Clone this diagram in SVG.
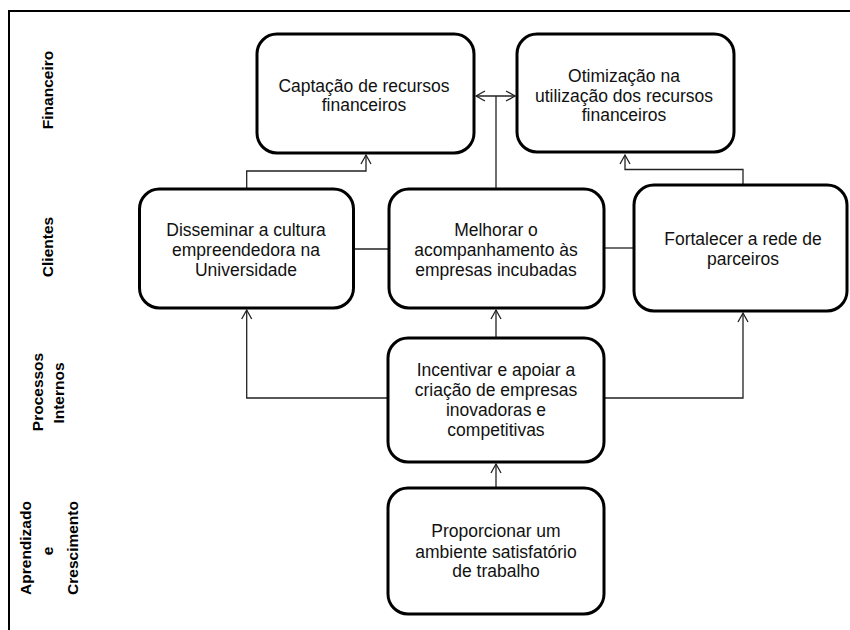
<svg xmlns="http://www.w3.org/2000/svg" width="850" height="630" viewBox="0 0 850 630">
<style>
.box{fill:#fff;stroke:#000;stroke-width:3}
.t{font-family:"Liberation Sans",Arial,sans-serif;font-size:17.5px;fill:#111;text-anchor:middle}
.lab{font-family:"Liberation Sans",Arial,sans-serif;font-size:15.5px;font-weight:bold;fill:#000;text-anchor:middle}
.c{fill:none;stroke:#222;stroke-width:1.3}
</style>
<defs>
<marker id="ah" markerUnits="userSpaceOnUse" markerWidth="12" markerHeight="12" viewBox="0 0 12 12" refX="10" refY="6" orient="auto-start-reverse">
<path d="M1,1 L10,6 L1,11" fill="none" stroke="#222" stroke-width="1.3"/>
</marker>
</defs>
<rect width="850" height="630" fill="#fff"/>
<path d="M9,640 L9,11 L860,11" fill="none" stroke="#000" stroke-width="2"/>
<g id="lanes">
<text class="lab" transform="translate(52.5,90) rotate(-90)">Financeiro</text>
<text class="lab" transform="translate(52.5,247) rotate(-90)">Clientes</text>
<text class="lab" transform="translate(42.5,392) rotate(-90)">Processos</text>
<text class="lab" transform="translate(63.5,393) rotate(-90)">Internos</text>
<text class="lab" transform="translate(30.5,548) rotate(-90)">Aprendizado</text>
<text class="lab" transform="translate(53,551) rotate(-90)">e</text>
<text class="lab" transform="translate(77.5,548) rotate(-90)">Crescimento</text>
</g>
<g id="connectors">
<path class="c" d="M246.7,188 V171 H366 V155" marker-end="url(#ah)"/>
<path class="c" d="M743,184 V169.5 H625 V155" marker-end="url(#ah)"/>
<path class="c" d="M496,188 V96"/>
<path class="c" d="M476,96 H515" marker-start="url(#ah)" marker-end="url(#ah)"/>
<path class="c" d="M354,249 H388"/>
<path class="c" d="M605,248 H633"/>
<path class="c" d="M387,398 H246.7 V310" marker-end="url(#ah)"/>
<path class="c" d="M605,398 H743 V313" marker-end="url(#ah)"/>
<path class="c" d="M496,337 V310" marker-end="url(#ah)"/>
<path class="c" d="M496,487 V464" marker-end="url(#ah)"/>
</g>
<g id="captacao">
<rect class="box" x="257" y="34" width="217" height="119" rx="20"/>
<text class="t" x="364" y="91.7">Captação de recursos</text>
<text class="t" x="364" y="111">financeiros</text>
</g>
<g id="otimizacao">
<rect class="box" x="517" y="34" width="217" height="118" rx="20"/>
<text class="t" x="624" y="81.7">Otimização na</text>
<text class="t" x="624" y="101.5">utilização dos recursos</text>
<text class="t" x="624" y="121">financeiros</text>
</g>
<g id="disseminar">
<rect class="box" x="139.5" y="189" width="214" height="119" rx="20"/>
<text class="t" x="246" y="236">Disseminar a cultura</text>
<text class="t" x="246" y="256">empreendedora na</text>
<text class="t" x="246" y="275.5">Universidade</text>
</g>
<g id="melhorar">
<rect class="box" x="389" y="189" width="215" height="119" rx="20"/>
<text class="t" x="496" y="236">Melhorar o</text>
<text class="t" x="496" y="256">acompanhamento às</text>
<text class="t" x="496" y="275.5">empresas incubadas</text>
</g>
<g id="fortalecer">
<rect class="box" x="634" y="185" width="213" height="126" rx="20"/>
<text class="t" x="743" y="245">Fortalecer a rede de</text>
<text class="t" x="743" y="265">parceiros</text>
</g>
<g id="incentivar">
<rect class="box" x="388" y="338" width="216" height="124" rx="20"/>
<text class="t" x="496" y="376">Incentivar e apoiar a</text>
<text class="t" x="496" y="396">criação de empresas</text>
<text class="t" x="496" y="416">inovadoras e</text>
<text class="t" x="496" y="436">competitivas</text>
</g>
<g id="proporcionar">
<rect class="box" x="388" y="488" width="216" height="126" rx="20"/>
<text class="t" x="496" y="537">Proporcionar um</text>
<text class="t" x="496" y="557.5">ambiente satisfatório</text>
<text class="t" x="496" y="577">de trabalho</text>
</g>
</svg>
